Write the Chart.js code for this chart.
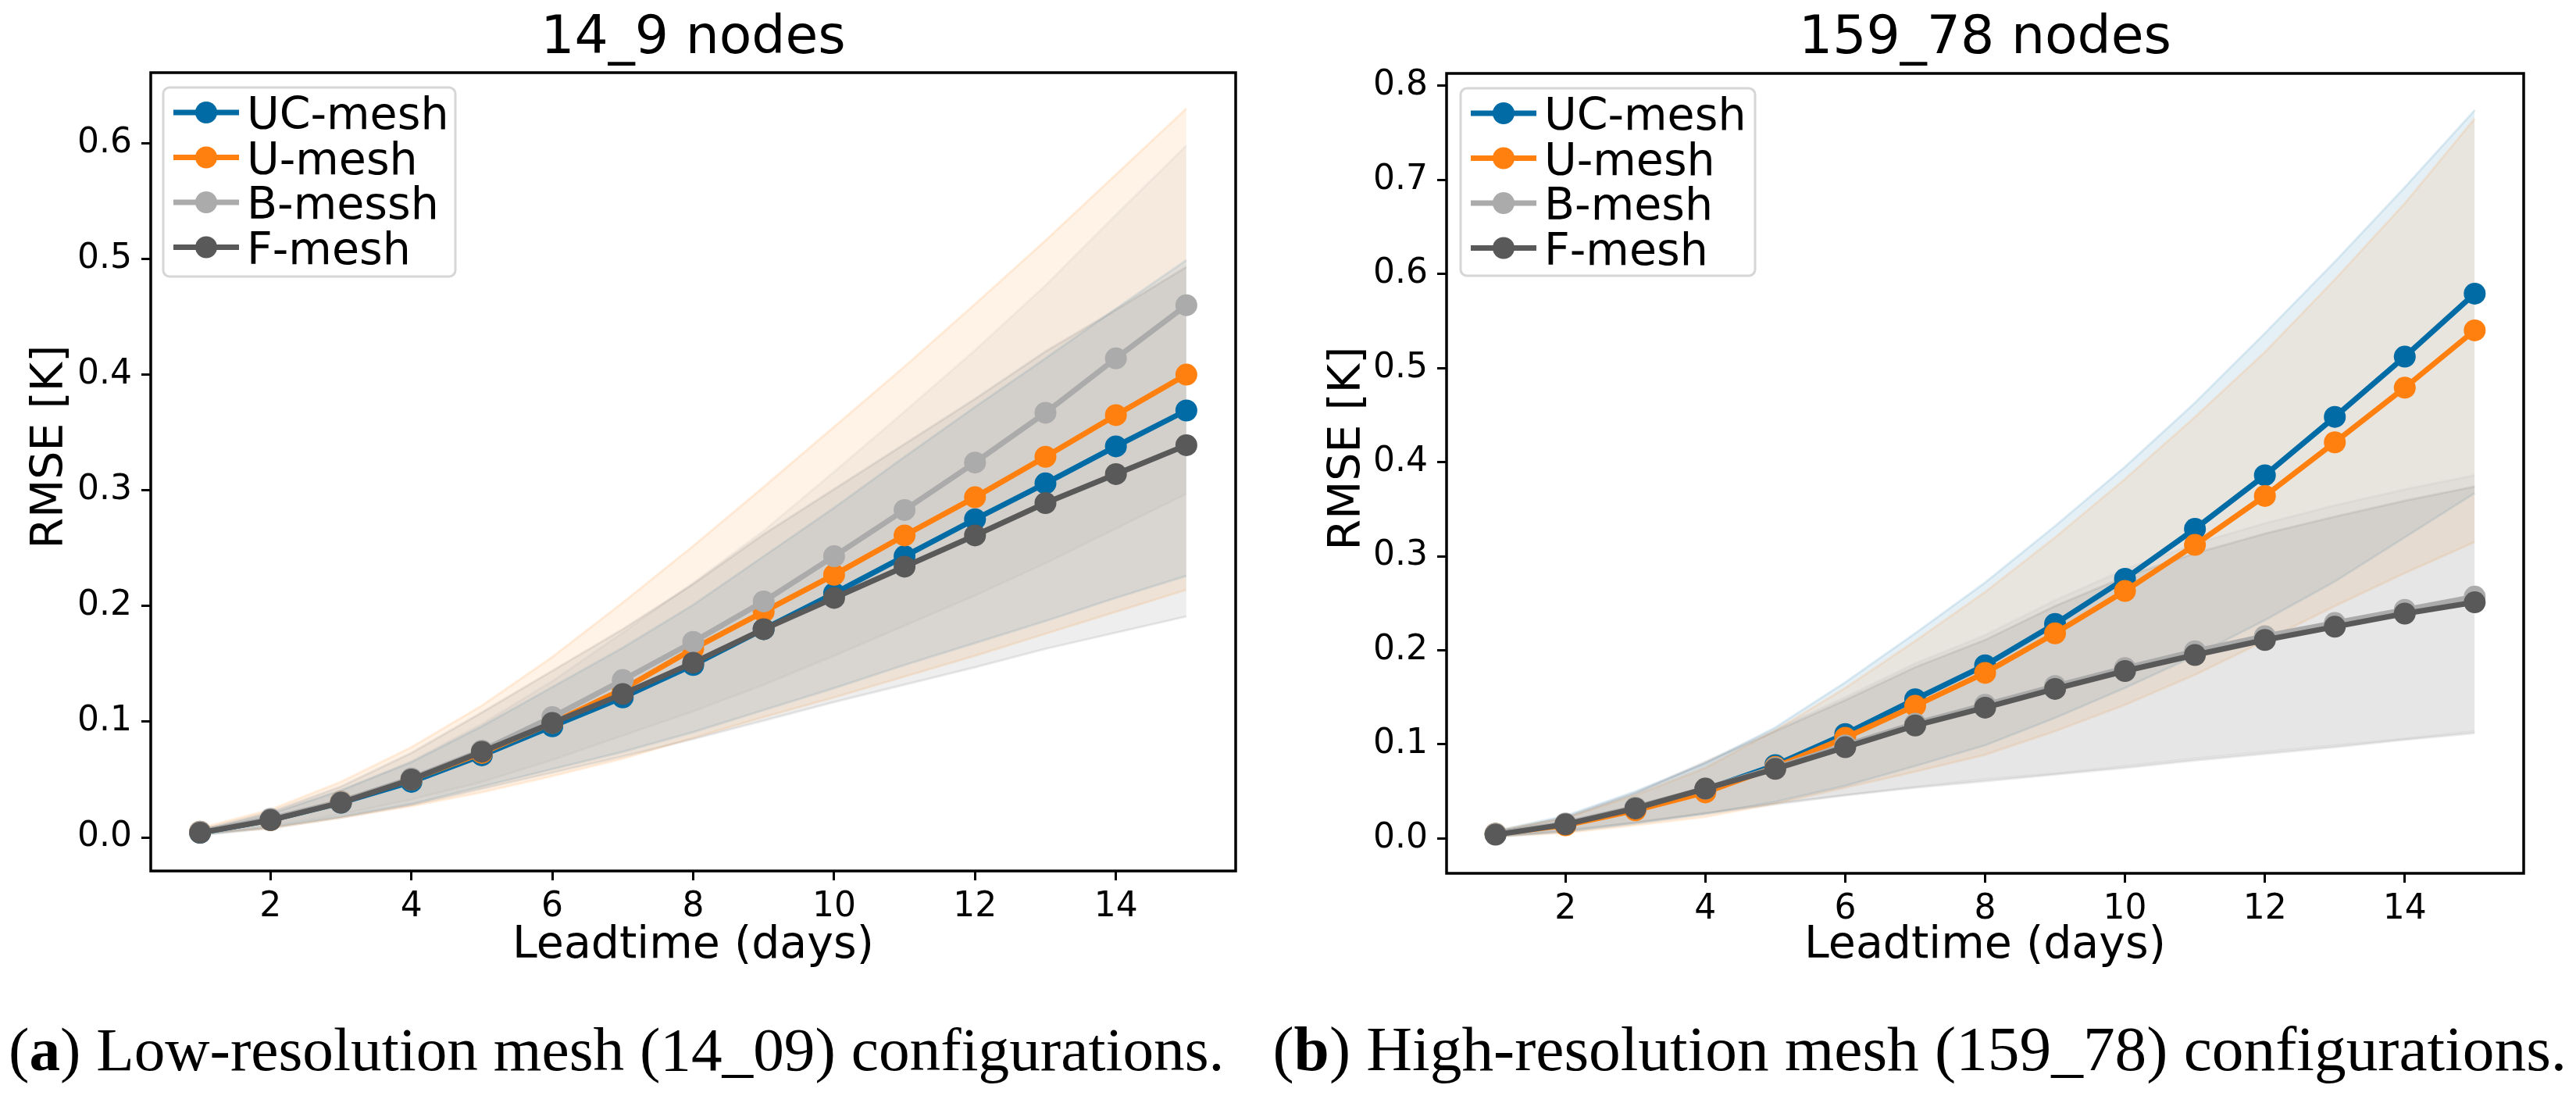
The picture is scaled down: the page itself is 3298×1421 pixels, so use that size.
<!DOCTYPE html>
<html>
<head>
<meta charset="utf-8">
<title>RMSE vs leadtime</title>
<script src="https://cdn.jsdelivr.net/npm/chart.js@4.4.0/dist/chart.umd.min.js"></script>
<style>
  html, body { margin: 0; padding: 0; background: #fff; overflow: hidden; }
  body { width: 3298px; height: 1421px; position: relative; }
  canvas { position: absolute; top: 0; }
  #chartLow { left: 0; }
  #chartHigh { left: 1660px; }
  .caption { position: absolute; font-family: "Liberation Serif", serif; white-space: nowrap; color: #000; }
</style>
</head>
<body>
<canvas id="chartLow" width="1775" height="1260"></canvas>
<canvas id="chartHigh" width="1763" height="1260"></canvas>
<div class="caption" id="capLow">(<b>a</b>) Low-resolution mesh (14_09) configurations.</div>
<div class="caption" id="capHigh">(<b>b</b>) High-resolution mesh (159_78) configurations.</div>
<script>
// lead times and axis ticks
const leadDays = [1, 2, 3, 4, 5, 6, 7, 8, 9, 10, 11, 12, 13, 14, 15];
const xTicks = [2, 4, 6, 8, 10, 12, 14];
const yTicksLow = [0, 0.1, 0.2, 0.3, 0.4, 0.5, 0.6];
const yTicksHigh = [0, 0.1, 0.2, 0.3, 0.4, 0.5, 0.6, 0.7, 0.8];

const namesLow = ['UC-mesh', 'U-mesh', 'B-messh', 'F-mesh'];
const namesHigh = ['UC-mesh', 'U-mesh', 'B-mesh', 'F-mesh'];
const meshColors = ['#006BA4', '#FF800E', '#ABABAB', '#595959'];

// 14_9 nodes : mean RMSE and the shaded spread (upper / lower edge)
const lowUC   = [0.004, 0.015, 0.030, 0.048, 0.071, 0.096, 0.121, 0.149, 0.180, 0.211, 0.243, 0.275, 0.306, 0.338, 0.369];
const lowUCHi = [0.005, 0.020, 0.041, 0.065, 0.096, 0.130, 0.164, 0.201, 0.243, 0.285, 0.329, 0.372, 0.414, 0.457, 0.499];
const lowUCLo = [0.002, 0.009, 0.018, 0.029, 0.044, 0.059, 0.074, 0.091, 0.110, 0.129, 0.149, 0.168, 0.187, 0.207, 0.226];
const lowU    = [0.005, 0.015, 0.031, 0.050, 0.073, 0.099, 0.128, 0.163, 0.195, 0.227, 0.261, 0.294, 0.329, 0.365, 0.400];
const lowUHi  = [0.008, 0.024, 0.048, 0.078, 0.114, 0.156, 0.203, 0.252, 0.303, 0.355, 0.407, 0.461, 0.516, 0.573, 0.630];
const lowULo  = [0.003, 0.008, 0.017, 0.027, 0.039, 0.053, 0.068, 0.086, 0.104, 0.121, 0.139, 0.157, 0.176, 0.195, 0.214];
const lowB    = [0.005, 0.016, 0.031, 0.051, 0.075, 0.104, 0.136, 0.169, 0.204, 0.243, 0.283, 0.324, 0.367, 0.414, 0.460];
const lowBHi  = [0.007, 0.021, 0.040, 0.066, 0.098, 0.135, 0.177, 0.220, 0.265, 0.316, 0.368, 0.421, 0.477, 0.538, 0.598];
const lowBLo  = [0.003, 0.010, 0.020, 0.033, 0.048, 0.067, 0.088, 0.109, 0.132, 0.157, 0.183, 0.209, 0.237, 0.267, 0.297];
const lowF    = [0.004, 0.015, 0.030, 0.050, 0.074, 0.099, 0.124, 0.151, 0.180, 0.207, 0.234, 0.261, 0.289, 0.314, 0.339];
const lowFHi  = [0.006, 0.022, 0.044, 0.073, 0.108, 0.144, 0.180, 0.219, 0.262, 0.301, 0.340, 0.379, 0.420, 0.456, 0.493];
const lowFLo  = [0.002, 0.008, 0.017, 0.028, 0.042, 0.056, 0.070, 0.085, 0.101, 0.117, 0.132, 0.147, 0.163, 0.177, 0.191];

// 159_78 nodes
const highUC   = [0.005, 0.015, 0.032, 0.052, 0.078, 0.111, 0.148, 0.184, 0.228, 0.276, 0.329, 0.386, 0.448, 0.512, 0.579];
const highUCHi = [0.008, 0.024, 0.050, 0.080, 0.118, 0.166, 0.218, 0.272, 0.332, 0.395, 0.463, 0.537, 0.613, 0.692, 0.774];
const highUCLo = [0.002, 0.007, 0.016, 0.026, 0.039, 0.056, 0.077, 0.099, 0.128, 0.160, 0.194, 0.232, 0.273, 0.320, 0.367];
const highU    = [0.005, 0.014, 0.030, 0.049, 0.076, 0.107, 0.141, 0.176, 0.218, 0.263, 0.312, 0.364, 0.421, 0.479, 0.540];
const highUHi  = [0.008, 0.022, 0.046, 0.075, 0.115, 0.160, 0.210, 0.262, 0.320, 0.382, 0.448, 0.517, 0.594, 0.675, 0.765];
const highULo  = [0.002, 0.006, 0.014, 0.023, 0.037, 0.054, 0.071, 0.089, 0.114, 0.142, 0.174, 0.210, 0.247, 0.282, 0.315];
const highB    = [0.005, 0.016, 0.033, 0.053, 0.075, 0.099, 0.122, 0.142, 0.162, 0.181, 0.199, 0.215, 0.229, 0.243, 0.257];
const highBHi  = [0.007, 0.023, 0.049, 0.082, 0.116, 0.150, 0.186, 0.216, 0.253, 0.286, 0.313, 0.335, 0.354, 0.371, 0.386];
const highBLo  = [0.002, 0.009, 0.017, 0.026, 0.036, 0.046, 0.055, 0.063, 0.069, 0.077, 0.085, 0.092, 0.099, 0.106, 0.114];
const highF    = [0.004, 0.015, 0.032, 0.053, 0.074, 0.097, 0.120, 0.139, 0.159, 0.178, 0.195, 0.211, 0.225, 0.239, 0.251];
const highFHi  = [0.007, 0.022, 0.048, 0.081, 0.114, 0.147, 0.182, 0.211, 0.247, 0.278, 0.303, 0.324, 0.342, 0.359, 0.374];
const highFLo  = [0.002, 0.008, 0.017, 0.027, 0.037, 0.046, 0.054, 0.061, 0.068, 0.075, 0.083, 0.090, 0.097, 0.105, 0.112];

Chart.defaults.font.family = '"DejaVu Sans", sans-serif';
Chart.defaults.color = '#000';

function fade(hex, a) {
  const n = parseInt(hex.slice(1), 16);
  return `rgba(${n >> 16}, ${(n >> 8) & 255}, ${n & 255}, ${a})`;
}

function points(values) {
  return values.map((v, i) => ({ x: leadDays[i], y: v }));
}

// black box round the plot area (matplotlib spines) and the y label,
// which sits a little above the middle of the axis in the original
const frame = {
  id: 'frame',
  afterDraw(chart, args, opts) {
    const { ctx, chartArea: a } = chart;
    ctx.save();
    ctx.lineWidth = 3.5;
    ctx.strokeStyle = '#000';
    ctx.strokeRect(a.left, a.top, a.right - a.left, a.bottom - a.top);
    ctx.translate(opts.labelX, (a.top + a.bottom) / 2 - 32);
    ctx.rotate(-Math.PI / 2);
    ctx.font = '57px "DejaVu Sans"';
    ctx.fillStyle = '#000';
    ctx.textAlign = 'center';
    ctx.textBaseline = 'middle';
    ctx.fillText(opts.label, 0, 0);
    ctx.restore();
  }
};

// legend box in the upper left corner: line + marker handles
const boxLegend = {
  id: 'boxLegend',
  afterDraw(chart, args, opts) {
    const { ctx, chartArea: a } = chart;
    const x0 = a.left + opts.dx, y0 = a.top + opts.dy;
    ctx.save();
    ctx.beginPath();
    ctx.roundRect(x0, y0, opts.width, opts.height, 8);
    ctx.fillStyle = 'rgba(255,255,255,0.8)';
    ctx.fill();
    ctx.lineWidth = 3;
    ctx.strokeStyle = '#d6d6d6';
    ctx.stroke();
    const means = chart.data.datasets.filter(d => d.isMean);
    ctx.font = '57px "DejaVu Sans"';
    ctx.textBaseline = 'alphabetic';
    means.forEach((d, i) => {
      const cy = y0 + 32 + i * 57.5;
      ctx.strokeStyle = d.borderColor;
      ctx.lineWidth = 7;
      ctx.beginPath();
      ctx.moveTo(x0 + 13, cy);
      ctx.lineTo(x0 + 97, cy);
      ctx.stroke();
      ctx.fillStyle = d.borderColor;
      ctx.beginPath();
      ctx.arc(x0 + 55, cy, 14, 0, Math.PI * 2);
      ctx.fill();
      ctx.fillStyle = '#000';
      ctx.fillText(d.label, x0 + 107, cy + 21);
    });
    ctx.restore();
  }
};

function buildChart(canvasId, cfg) {
  const canvas = document.getElementById(canvasId);
  const W = canvas.width, H = canvas.height;
  const area = cfg.area;
  const bands = [];
  const lines = [];
  cfg.names.forEach((name, k) => {
    const c = meshColors[k];
    bands.push({
      label: name + ' upper', data: points(cfg.hi[k]), fill: '+1',
      borderColor: fade(c, 0.12), backgroundColor: fade(c, 0.1), borderWidth: 3,
      pointRadius: 0, order: 20 - k
    });
    bands.push({
      label: name + ' lower', data: points(cfg.lo[k]), fill: false,
      borderColor: fade(c, 0.12), backgroundColor: fade(c, 0.1), borderWidth: 3,
      pointRadius: 0, order: 20 - k
    });
    lines.push({
      label: name, isMean: true, data: points(cfg.mean[k]), fill: false,
      borderColor: c, backgroundColor: c, borderWidth: 7,
      pointRadius: 14, pointBackgroundColor: c, pointBorderWidth: 0,
      order: 4 - k
    });
  });

  return new Chart(canvas, {
    type: 'line',
    data: { datasets: bands.concat(lines) },
    plugins: [frame, boxLegend],
    options: {
      responsive: false,
      devicePixelRatio: 1,
      animation: false,
      events: [],
      layout: { padding: { left: 0, right: W - area.right, top: 0, bottom: 0 } },
      plugins: {
        legend: { display: false },
        tooltip: { enabled: false },
        title: {
          display: true,
          fullSize: false,
          text: cfg.title,
          font: { size: 68, weight: 'normal' },
          padding: { top: 10, bottom: area.top - 10 - 81.6 }
        },
        boxLegend: cfg.legend,
        frame: { label: 'RMSE [K]', labelX: cfg.labelX }
      },
      scales: {
        x: {
          type: 'linear',
          min: 0.3,
          max: 15.7,
          afterBuildTicks: s => { s.ticks = xTicks.map(v => ({ value: v })); },
          afterFit: s => { s.height = H - area.bottom; },
          ticks: { font: { size: 44 }, padding: 8, autoSkip: false, maxRotation: 0, callback: v => String(v) },
          grid: { display: true, drawOnChartArea: false, drawTicks: true, tickLength: 12, tickWidth: 3, tickColor: '#000' },
          border: { display: false },
          title: { display: true, text: 'Leadtime (days)', font: { size: 57 }, padding: { top: 0, bottom: 15 } }
        },
        y: {
          type: 'linear',
          min: cfg.yMin,
          max: cfg.yMax,
          afterBuildTicks: s => { s.ticks = cfg.yTicks.map(v => ({ value: v })); },
          afterFit: s => { s.width = area.left; },
          ticks: { font: { size: 44 }, padding: 12, autoSkip: false, callback: v => v.toFixed(1) },
          grid: { display: true, drawOnChartArea: false, drawTicks: true, tickLength: 12, tickWidth: 3, tickColor: '#000' },
          border: { display: false },
          title: { display: false }
        }
      }
    }
  });
}

buildChart('chartLow', {
  title: '14_9 nodes',
  names: namesLow,
  mean: [lowUC, lowU, lowB, lowF],
  hi: [lowUCHi, lowUHi, lowBHi, lowFHi],
  lo: [lowUCLo, lowULo, lowBLo, lowFLo],
  yMin: -0.029, yMax: 0.661, yTicks: yTicksLow,
  area: { left: 193, right: 1582, top: 93, bottom: 1115 },
  labelX: 65,
  legend: { dx: 16, dy: 19, width: 374, height: 242 }
});

buildChart('chartHigh', {
  title: '159_78 nodes',
  names: namesHigh,
  mean: [highUC, highU, highB, highF],
  hi: [highUCHi, highUHi, highBHi, highFHi],
  lo: [highUCLo, highULo, highBLo, highFLo],
  yMin: -0.037, yMax: 0.813, yTicks: yTicksHigh,
  area: { left: 192, right: 1571, top: 94, bottom: 1118 },
  labelX: 66,
  legend: { dx: 18, dy: 19, width: 377, height: 240 }
});

// captions under each panel, sized to the reference width
function placeCaption(id, centerX, targetWidth, baseline) {
  const el = document.getElementById(id);
  el.style.fontSize = '100px';
  el.style.lineHeight = '100px';
  const fs = 100 * targetWidth / el.offsetWidth;
  el.style.fontSize = fs + 'px';
  el.style.lineHeight = fs + 'px';
  el.style.left = (centerX - el.offsetWidth / 2) + 'px';
  el.style.top = (baseline - 0.8375 * fs) + 'px';
}
placeCaption('capLow', 789, 1557, 1370);
placeCaption('capHigh', 2458, 1657, 1370);
</script>
</body>
</html>
